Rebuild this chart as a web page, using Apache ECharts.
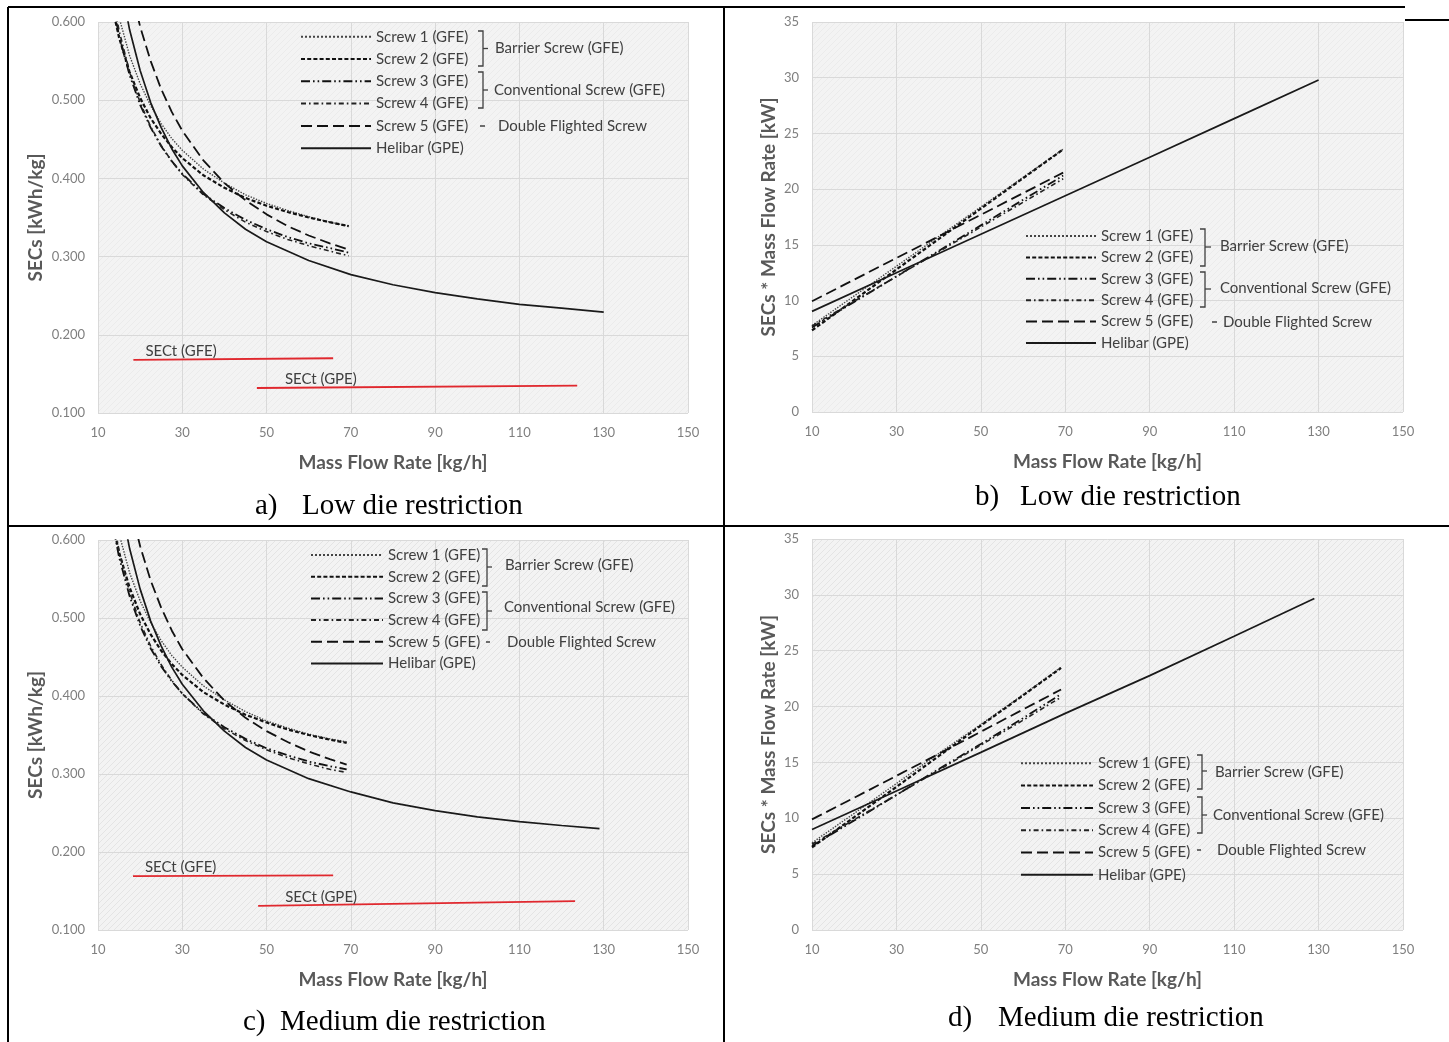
<!DOCTYPE html>
<html><head><meta charset="utf-8">
<script src="https://cdn.jsdelivr.net/npm/echarts@6.0.0/dist/echarts.min.js"></script>
<style>html,body{margin:0;padding:0;background:#fff}#c{width:1449px;height:1042px}</style>
</head><body><div id="c"></div>
<script>
// ---------- data ----------
const xTicks = [10, 30, 50, 70, 90, 110, 130, 150];
const secTicks = ['0.100','0.200','0.300','0.400','0.500','0.600'];
const powTicks = [0, 5, 10, 15, 20, 25, 30, 35];
const legendNames = ['Screw 1 (GFE)','Screw 2 (GFE)','Screw 3 (GFE)','Screw 4 (GFE)','Screw 5 (GFE)','Helibar (GPE)'];

// a) Low die restriction - SECs [kWh/kg]
const flowA = [10,12.5,15,17.5,20,22.5,25,27.5,30,35,40,45,50,55,60,65,69.5];
const secA1 = [0.776,0.674,0.606,0.557,0.521,0.493,0.470,0.451,0.436,0.412,0.394,0.379,0.368,0.359,0.351,0.344,0.339];
const secA2 = [0.733,0.641,0.580,0.536,0.503,0.477,0.457,0.440,0.426,0.404,0.388,0.375,0.365,0.357,0.350,0.344,0.339];
const secA3 = [0.759,0.653,0.582,0.532,0.494,0.465,0.441,0.422,0.406,0.380,0.362,0.347,0.335,0.325,0.317,0.311,0.305];
const secA4 = [0.772,0.662,0.589,0.536,0.497,0.466,0.442,0.422,0.405,0.379,0.360,0.344,0.332,0.322,0.314,0.307,0.301];
const secA5 = [0.994,0.834,0.727,0.651,0.594,0.550,0.514,0.485,0.461,0.423,0.394,0.372,0.354,0.339,0.327,0.317,0.309];
const flowAH = [10,12.5,15,17.5,20,22.5,25,27.5,30,35,40,45,50,60,70,80,90,100,110,120,130];
const secAH = [0.903,0.757,0.660,0.590,0.538,0.497,0.465,0.438,0.416,0.382,0.356,0.335,0.319,0.295,0.277,0.264,0.254,0.246,0.239,0.234,0.229];
const sectGfeFlowA = [18.4, 65.8], sectGfeA = [0.168, 0.170];
const sectGpeFlowA = [47.7, 123.7], sectGpeA = [0.132, 0.135];

// b) Low die restriction - SECs * Mass Flow Rate [kW]
const flowB = [10,20,30,40,50,60,69.5];
const powB1 = [7.76,10.42,13.08,15.74,18.40,21.06,23.59];
const powB2 = [7.33,10.06,12.79,15.52,18.25,20.98,23.57];
const powB3 = [7.59,9.88,12.17,14.46,16.75,19.04,21.22];
const powB4 = [7.72,9.94,12.16,14.38,16.60,18.82,20.93];
const powB5 = [9.94,11.88,13.82,15.76,17.70,19.64,21.48];
const flowBH = [10,30,50,70,90,110,130];
const powBH = [9.03,12.49,15.95,19.41,22.87,26.33,29.79];

// c) Medium die restriction - SECs [kWh/kg]
const flowC = [10,12.5,15,17.5,20,22.5,25,27.5,30,35,40,45,50,55,60,65,69];
const secC1 = [0.780,0.676,0.608,0.558,0.522,0.494,0.471,0.452,0.437,0.413,0.395,0.380,0.368,0.359,0.351,0.345,0.341];
const secC2 = [0.740,0.646,0.584,0.539,0.505,0.479,0.458,0.441,0.427,0.405,0.389,0.376,0.366,0.357,0.350,0.344,0.340];
const secC3 = [0.752,0.648,0.578,0.528,0.490,0.461,0.438,0.419,0.403,0.378,0.360,0.345,0.333,0.324,0.316,0.310,0.306];
const secC4 = [0.768,0.658,0.586,0.533,0.494,0.464,0.440,0.420,0.403,0.377,0.358,0.343,0.331,0.321,0.313,0.306,0.302];
const secC5 = [0.990,0.830,0.724,0.648,0.592,0.548,0.513,0.484,0.460,0.423,0.394,0.372,0.355,0.341,0.329,0.319,0.312];
const flowCH = [10,12.5,15,17.5,20,22.5,25,27.5,30,35,40,45,50,60,70,80,90,100,110,120,129];
const secCH = [0.900,0.755,0.658,0.589,0.537,0.496,0.464,0.437,0.415,0.381,0.355,0.334,0.318,0.294,0.277,0.263,0.253,0.245,0.239,0.234,0.230];
const sectGfeFlowC = [18.3, 65.8], sectGfeC = [0.169, 0.170];
const sectGpeFlowC = [48.0, 123.2], sectGpeC = [0.131, 0.137];

// d) Medium die restriction - SECs * Mass Flow Rate [kW]
const flowD = [10,20,30,40,50,60,69];
const powD1 = [7.80,10.44,13.11,15.80,18.40,21.06,23.53];
const powD2 = [7.40,10.10,12.81,15.56,18.30,21.00,23.46];
const powD3 = [7.52,9.80,12.09,14.40,16.65,18.96,21.11];
const powD4 = [7.68,9.88,12.09,14.32,16.55,18.78,20.84];
const powD5 = [9.90,11.84,13.80,15.76,17.75,19.74,21.53];
const flowDH = [10,30,50,70,90,110,129];
const powDH = [9.00,12.45,15.90,19.39,22.77,26.29,29.67];

// ---------- styles ----------
const FONT = 'Lato, "Open Sans", sans-serif';
const SERIF = '"Liberation Serif", "Times New Roman", serif';
const styles = [
  {color:'#444', width:1.4, type:'dotted'},
  {color:'#111', width:2.2, type:[4,2.2]},
  {color:'#111', width:1.8, type:[9,3,1.6,3,1.6,3]},
  {color:'#222', width:1.6, type:[5,3,1.6,3]},
  {color:'#111', width:1.8, type:[11,5]},
  {color:'#1a1a1a', width:1.7, type:'solid'}
];

function lineSeries(name, st, xs, ys, gi){
  return {
    name, type:'line', xAxisIndex:gi, yAxisIndex:gi,
    data: xs.map((x,i)=>[x, ys[i]]),
    symbol:'none', smooth:false, silent:true,
    lineStyle:{color:st.color, width:st.width, type:st.type},
    itemStyle:{color:st.color}, z:3
  };
}
function redSeries(label, xs, ys, gi, off){
  return {
    name: label, type:'line', xAxisIndex:gi, yAxisIndex:gi,
    data: xs.map((x,i)=> i===0 ? {value:[x, ys[i]], label:{show:true}} : [x, ys[i]]),
    symbol:'circle', symbolSize:0.1, showSymbol:true, silent:true,
    lineStyle:{color:'#e0282e', width:1.8}, itemStyle:{color:'#e0282e'},
    label:{show:false, formatter:label, position:'top', align:'left', distance:1,
      offset:[off,0], color:'#404040', fontSize:15, fontFamily:FONT},
    z:4
  };
}

// subtle hatched plot background
function hatch(strong){
  const c = document.createElement('canvas'); c.width = 6; c.height = 6;
  const g = c.getContext('2d');
  g.fillStyle = '#f3f3f3'; g.fillRect(0,0,6,6);
  g.strokeStyle = strong ? '#e4e4e4' : '#ebebeb'; g.lineWidth = 1;
  g.beginPath(); g.moveTo(-1,7); g.lineTo(7,-1); g.stroke();
  return c;
}

const gridsPos = [
  {left:98, top:22, width:590, height:391},
  {left:812, top:22, width:591, height:390},
  {left:98, top:540, width:590, height:390},
  {left:812, top:539, width:591, height:391}
];
const grid = gridsPos.map((g,i) => Object.assign({show:true, backgroundColor:{image:hatch(i>=2), repeat:'repeat'}, borderWidth:0, containLabel:false, outerBoundsMode:'none'}, g));

const xAxis = gridsPos.map((g,i)=>({
  type:'value', gridIndex:i, min:xTicks[0], max:xTicks[xTicks.length-1], interval:xTicks[1]-xTicks[0],
  axisLine:{show:false}, axisTick:{show:false},
  splitLine:{show:true, lineStyle:{color:'#d9d9d9', width:1}},
  axisLabel:{color:'#7f7f7f', fontSize:13, margin:13, fontFamily:FONT},
  name:'Mass Flow Rate [kg/h]', nameLocation:'middle', nameGap:40,
  nameTextStyle:{color:'#595959', fontSize:19, fontWeight:'bold', fontFamily:FONT}
}));
const yAxis = gridsPos.map((g,i)=>{
  const sec = (i===0 || i===2);
  return {
    type:'value', gridIndex:i,
    min: sec ? +secTicks[0] : powTicks[0],
    max: sec ? +secTicks[secTicks.length-1] : powTicks[powTicks.length-1],
    interval: sec ? 0.1 : powTicks[1]-powTicks[0],
    axisLine:{show:false}, axisTick:{show:false},
    splitLine:{show:true, lineStyle:{color:'#d9d9d9', width:1}},
    axisLabel:{color:'#7f7f7f', fontSize:13, margin:13, fontFamily:FONT,
      formatter: sec ? (v => v.toFixed(3)) : (v => String(Math.round(v)))},
    name: sec ? 'SECs [kWh/kg]' : 'SECs * Mass Flow Rate [kW]',
    nameLocation:'middle', nameGap: sec ? 53 : 34,
    nameTextStyle:{color:'#595959', fontSize:19, fontWeight:'bold', fontFamily:FONT}
  };
});

const series = [];
[[flowA,[secA1,secA2,secA3,secA4,secA5],flowAH,secAH],
 [flowB,[powB1,powB2,powB3,powB4,powB5],flowBH,powBH],
 [flowC,[secC1,secC2,secC3,secC4,secC5],flowCH,secCH],
 [flowD,[powD1,powD2,powD3,powD4,powD5],flowDH,powDH]].forEach((p,gi)=>{
  p[1].forEach((ys,k)=> series.push(lineSeries(legendNames[k], styles[k], p[0], ys, gi)));
  series.push(lineSeries(legendNames[5], styles[5], p[2], p[3], gi));
});
series.push(redSeries('SECt (GFE)', sectGfeFlowA, sectGfeA, 0, 12));
series.push(redSeries('SECt (GPE)', sectGpeFlowA, sectGpeA, 0, 28));
series.push(redSeries('SECt (GFE)', sectGfeFlowC, sectGfeC, 2, 12));
series.push(redSeries('SECt (GPE)', sectGpeFlowC, sectGpeC, 2, 27));

// legends (one per panel)
const legendPos = [
  {left:300, top:29.2, itemWidth:70, itemGap:7.3},
  {left:1025, top:228.5, itemWidth:70, itemGap:6.4},
  {left:310, top:547.5, itemWidth:72, itemGap:6.7},
  {left:1020, top:755.8, itemWidth:72, itemGap:7.3}
];
const legend = legendPos.map(l=>({
  data: legendNames, orient:'vertical', left:l.left, top:l.top, padding:0,
  itemWidth:l.itemWidth, itemHeight:14, itemGap:l.itemGap, selectedMode:false,
  itemStyle:{opacity:0, borderWidth:0}, z:20,
  textStyle:{color:'#404040', fontSize:15, lineHeight:15, fontFamily:FONT}
}));

// brackets and group labels, borders, captions
const G = [];
const INK = '#404040';
function bracket(x0, x1, y0, y1, ym, tx){
  G.push({type:'polyline', z:100, shape:{points:[[x0,y0],[x1,y0],[x1,y1],[x0,y1]]}, style:{stroke:INK, lineWidth:1.3, fill:null}, silent:true});
  G.push({type:'line', z:100, shape:{x1:x1, y1:ym, x2:tx, y2:ym}, style:{stroke:INK, lineWidth:1.3}, silent:true});
}
function txt(x, y, s, opt){
  G.push({type:'text', x:x, y:y, z:100, silent:true, style:Object.assign({text:s, fill:INK, font:'15px '+FONT, textVerticalAlign:'middle', textAlign:'left'}, opt||{})});
}
function dash(x0, x1, y){ G.push({type:'line', z:100, shape:{x1:x0,y1:y,x2:x1,y2:y}, style:{stroke:INK, lineWidth:1.5}, silent:true}); }

// panel a
bracket(478,483,31,66,48.5,488); txt(495,48,'Barrier Screw (GFE)');
bracket(478,483,72,108,90,488); txt(494,90,'Conventional Screw (GFE)');
dash(480,485,126); txt(498,126,'Double Flighted Screw');
// panel b
bracket(1200,1205,229,266,247,1211); txt(1220,246,'Barrier Screw (GFE)');
bracket(1200,1205,272,307,289,1211); txt(1220,288,'Conventional Screw (GFE)');
dash(1212,1217,322); txt(1223,322,'Double Flighted Screw');
// panel c
bracket(482,487,549,586,567,492); txt(505,565,'Barrier Screw (GFE)');
bracket(482,487,592,630,611,492); txt(504,607,'Conventional Screw (GFE)');
dash(486,490,642); txt(507,642,'Double Flighted Screw');
// panel d
bracket(1197,1202,755,789,771,1207); txt(1215,772,'Barrier Screw (GFE)');
bracket(1197,1202,797,833,815,1207); txt(1213,815,'Conventional Screw (GFE)');
dash(1197,1201,850); txt(1217,850,'Double Flighted Screw');

// captions
function cap(x1, x2, y, s1, s2){
  txt(x1, y, s1, {fill:'#000', font:'29px '+SERIF});
  txt(x2, y, s2, {fill:'#000', font:'29px '+SERIF});
}
cap(255, 302, 506, 'a)', 'Low die restriction');
cap(975, 1020, 497, 'b)', 'Low die restriction');
cap(243, 280, 1022, 'c)', 'Medium die restriction');
cap(948, 998, 1018, 'd)', 'Medium die restriction');

// table borders
function bl(x1,y1,x2,y2,w){ G.push({type:'line', shape:{x1,y1,x2,y2}, style:{stroke:'#000', lineWidth:w||2}, silent:true, z:110}); }
bl(8,7,1405,7); bl(8,7,8,1042); bl(724,7,724,1042); bl(8,526,1405,526);
bl(1405,20,1449,20); bl(1405,526,1449,526);

const chart = echarts.init(document.getElementById('c'));
chart.setOption({
  animation:false, backgroundColor:'#fff',
  grid, xAxis, yAxis, legend, series, graphic: G
});
</script></body></html>
